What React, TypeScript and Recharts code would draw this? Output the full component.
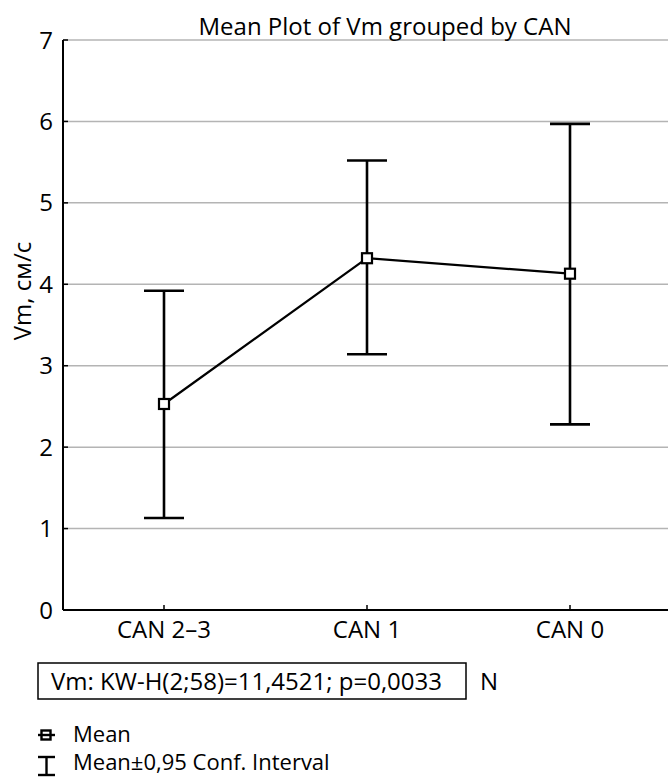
import React from 'react';
import {
    ComposedChart,
    Line,
    ErrorBar,
    XAxis,
    YAxis,
    CartesianGrid,
} from 'recharts';

const categories = ['CAN 2–3', 'CAN 1', 'CAN 0'];
const means = [2.53, 4.32, 4.13];
const lower = [1.13, 3.14, 2.28];
const upper = [3.92, 5.52, 5.97];
const yTicks = [0, 1, 2, 3, 4, 5, 6, 7];

const data = categories.map((name, i) => ({
    name,
    mean: means[i],
    err: [means[i] - lower[i], upper[i] - means[i]],
}));

const FONT = "'Open Sans', sans-serif";
const FS = 24;

const MeanDot = (props: any) => {
    const { cx, cy, index } = props;
    return (
        <rect
            key={`dot-${index}`}
            x={cx - 5}
            y={cy - 5}
            width={10}
            height={10}
            fill="#fff"
            stroke="#000"
            strokeWidth={2.2}
        />
    );
};

export default function App() {
    const tickStyle = { fill: '#000', fontSize: FS, fontFamily: FONT };
    return (
        <div style={{ position: 'absolute', left: 0, top: 0, width: 668, height: 777, background: '#fff', fontFamily: FONT }}>
            <ComposedChart
                width={668}
                height={777}
                data={data}
                margin={{ top: 40, right: 0, bottom: 137, left: 0 }}
            >
                <CartesianGrid horizontal vertical={false} stroke="#b4b4b4" strokeWidth={1.5} />
                <XAxis
                    dataKey="name"
                    padding={{ left: 101, right: 98 }}
                    height={30}
                    axisLine={{ stroke: '#000', strokeWidth: 2 }}
                    tickLine={{ stroke: '#000', strokeWidth: 1.5 }}
                    tickSize={-5}
                    tickMargin={16}
                    tick={tickStyle}
                />
                <XAxis
                    xAxisId="top"
                    orientation="top"
                    dataKey="name"
                    padding={{ left: 101, right: 98 }}
                    height={0}
                    axisLine={{ stroke: '#000', strokeWidth: 2 }}
                    tickLine={{ stroke: '#000', strokeWidth: 1.5 }}
                    tickSize={-6}
                    tick={false}
                />
                <YAxis
                    domain={[0, 7]}
                    ticks={yTicks}
                    width={63}
                    axisLine={{ stroke: '#000', strokeWidth: 2 }}
                    tickLine={{ stroke: '#000', strokeWidth: 1.5 }}
                    tickSize={-5}
                    tickMargin={15}
                    tick={tickStyle}
                />
                <YAxis
                    yAxisId="right"
                    orientation="right"
                    domain={[0, 7]}
                    ticks={yTicks}
                    width={0}
                    axisLine={{ stroke: '#000', strokeWidth: 2 }}
                    tickLine={{ stroke: '#000', strokeWidth: 1.5 }}
                    tickSize={-5}
                    tick={false}
                />
                <Line
                    dataKey="mean"
                    stroke="#000"
                    strokeWidth={2.2}
                    dot={MeanDot}
                    activeDot={false}
                    isAnimationActive={false}
                >
                    <ErrorBar
                        dataKey="err"
                        direction="y"
                        width={20}
                        stroke="#000"
                        strokeWidth={2.6}
                        isAnimationActive={false}
                    />
                </Line>
            </ComposedChart>

            <svg
                width={668}
                height={777}
                style={{ position: 'absolute', left: 0, top: 0, pointerEvents: 'none' }}
                fontFamily={FONT}
            >
                <text x={385} y={35} textAnchor="middle" fontSize={FS} fill="#000">
                    Mean Plot of Vm grouped by CAN
                </text>
                <text
                    x={0}
                    y={0}
                    transform="translate(31, 291) rotate(-90)"
                    textAnchor="middle"
                    fontSize={FS}
                    fill="#000"
                >
                    Vm, см/с
                </text>

                <rect x={38} y={663} width={428} height={36} fill="none" stroke="#000" strokeWidth={1.5} />
                <text x={51} y={690} fontSize={FS} fill="#000">
                    Vm: KW-H(2;58)=11,4521; p=0,0033
                </text>
                <text x={480} y={690} fontSize={FS} fill="#000">N</text>

                <line x1={38} y1={735} x2={55} y2={735} stroke="#000" strokeWidth={2.4} />
                <rect x={41.5} y={730.5} width={9} height={9} fill="none" stroke="#000" strokeWidth={2.4} />
                <text x={73} y={742} fontSize={22} fill="#000">Mean</text>

                <line x1={38} y1={757} x2={55} y2={757} stroke="#000" strokeWidth={2.4} />
                <line x1={46.5} y1={757} x2={46.5} y2={775} stroke="#000" strokeWidth={2.4} />
                <line x1={38} y1={775} x2={55} y2={775} stroke="#000" strokeWidth={2.4} />
                <text x={73} y={770} fontSize={22} fill="#000">Mean±0,95 Conf. Interval</text>
            </svg>
        </div>
    );
}
